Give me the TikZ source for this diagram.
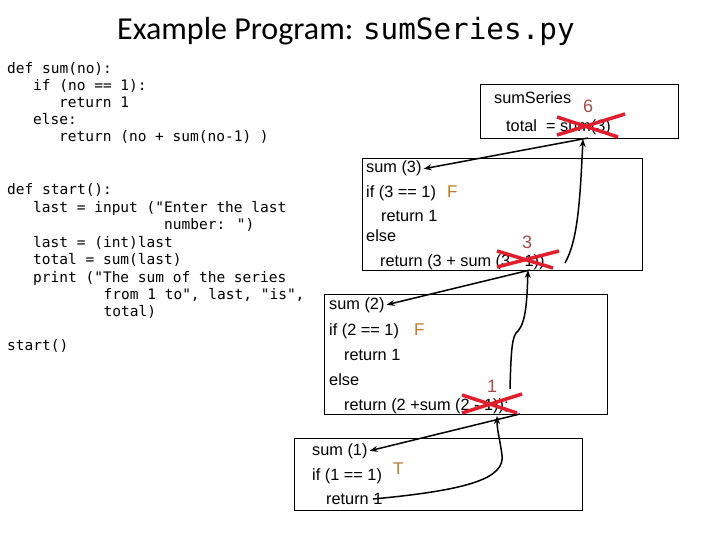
\documentclass[tikz,border=0pt]{standalone}
\usepackage{fontspec}
\setmainfont{Liberation Sans}
\newfontfamily\codefont{DejaVu Sans Mono}
\newfontfamily\titlefont{Carlito}
\usetikzlibrary{arrows.meta}
\definecolor{xred}{RGB}{225,30,45}
\definecolor{numc}{RGB}{160,80,75}
\definecolor{tfc}{RGB}{185,125,45}
\begin{document}
\begin{tikzpicture}[x=1pt,y=-1pt,
  code/.style={anchor=base west, inner sep=0, font=\codefont\fontsize{14.5}{17}\selectfont},
  txt/.style={anchor=base west, inner sep=0, font=\fontsize{16.3}{19}\selectfont},
  frame/.style={draw, line width=0.8pt, anchor=north west, inner sep=0},
  arr/.style={-{Stealth[length=8pt,width=6pt]}, line width=1.5pt},
  cross/.style={xred, line width=3.5pt},
  res/.style={numc, font=\fontsize{18}{20}\selectfont, inner sep=0},
  flag/.style={tfc, font=\fontsize{17}{19}\selectfont, anchor=base west, inner sep=0}]
\useasboundingbox (0,0) rectangle (720,540);

% title
\node[anchor=base west, inner sep=0] (title) at (117,40)
  {\titlefont\fontsize{32}{36}\selectfont Example Program: {\codefont\fontsize{29.3}{34}\selectfont sumSeries.py}};

% code block 1
\node[code] (c1) at (7,74) {def sum(no):};
\node[code] (c2) at (33,91) {if (no == 1):};
\node[code] (c3) at (59,108) {return 1};
\node[code] (c4) at (33,125) {else:};
\node[code] (c5) at (59,142) {return (no + sum(no-1) )};

% code block 2
\node[code] (d1) at (7,195) {def start():};
\node[code] (d2) at (33,212.4) {last = input ("Enter the last};
\node[code] (d3) at (164,229.8) {number: ")};
\node[code] (d4) at (33,247.2) {last = (int)last};
\node[code] (d5) at (33,264.6) {total = sum(last)};
\node[code] (d6) at (33,282) {print ("The sum of the series};
\node[code] (d7) at (103.5,299.4) {from 1 to", last, "is",};
\node[code] (d8) at (103.5,316.8) {total)};
\node[code] (d9) at (7,350) {start()};

% boxes
\node[frame, minimum width=198, minimum height=54] (boxA) at (480,84) {};
\node[frame, minimum width=280, minimum height=112] (boxB) at (362,158) {};
\node[frame, minimum width=283, minimum height=120] (boxC) at (324,294) {};
\node[frame, minimum width=288, minimum height=72] (boxD) at (294,438) {};

% box A text
\node[txt] (a1) at (494,104) {sumSeries};
\node[txt] (a2) at (506,132) {total \ = sum(3)};

% box B text
\node[txt] (b1) at (366,173) {sum (3)};
\node[txt] (b2) at (366,197) {if (3 == 1)};
\node[flag] (bF) at (447,197) {F};
\node[txt] (b3) at (381,222) {return 1};
\node[txt] (b4) at (366,241) {else};
\node[txt] (b5) at (380,266) {return (3 + sum (3 - 1))};

% box C text
\node[txt] (e1) at (329,309) {sum (2)};
\node[txt] (e2) at (329,335) {if (2 == 1)};
\node[flag] (eF) at (414,335) {F};
\node[txt] (e3) at (344,360) {return 1};
\node[txt] (e4) at (329,385) {else};
\node[txt] (e5) at (344,410) {return (2 +sum (2 - 1));};

% box D text
\node[txt] (f1) at (312,455) {sum (1)};
\node[txt] (f2) at (312,480) {if (1 == 1)};
\node[flag] (fT) at (393,474) {T};
\node[txt] (f3) at (326,504) {return 1};

% crosses and results
\draw[cross] (557,117) -- (618,137);
\draw[cross] (557,135) -- (625,114);
\node[res] (r6) at (588,106) {6};
\draw[cross] (497,251) -- (553,268);
\draw[cross] (497,267) -- (559,251);
\node[res] (r3) at (527,242) {3};
\draw[cross] (462,395) -- (517,413);
\draw[cross] (462,413) -- (522,394);
\node[res] (r1) at (492,386) {1};

% connectors
\coordinate (pA) at (588,138);
\coordinate (pB) at (530,270);
\coordinate (pC) at (520,414);
\coordinate (qB) at (565,263);
\coordinate (qC) at (510,389);
\coordinate (qD) at (373,499);
\coordinate (tA) at (583,139);
\coordinate (tB) at (528,270);
\coordinate (tC) at (497,416);
\coordinate (k1) at (518,331);
\coordinate (k2) at (502,455);

\draw[arr] (pA) -- ([xshift=2pt]b1.east);
\draw[arr] (pB) -- ([xshift=2pt]e1.east);
\draw[arr] (pC) -- ([xshift=2pt]f1.east);
\draw[arr] (qB) .. controls (578,240) and (580,200) .. (tA);
\draw[arr] (qC) .. controls (511,350) and (512,335) .. (k1) .. controls (526,322) and (527,300) .. (tB);
\draw[arr] (qD) .. controls (470,490) and (505,478) .. (k2) .. controls (500,440) and (497,430) .. (tC);
\end{tikzpicture}
\end{document}
